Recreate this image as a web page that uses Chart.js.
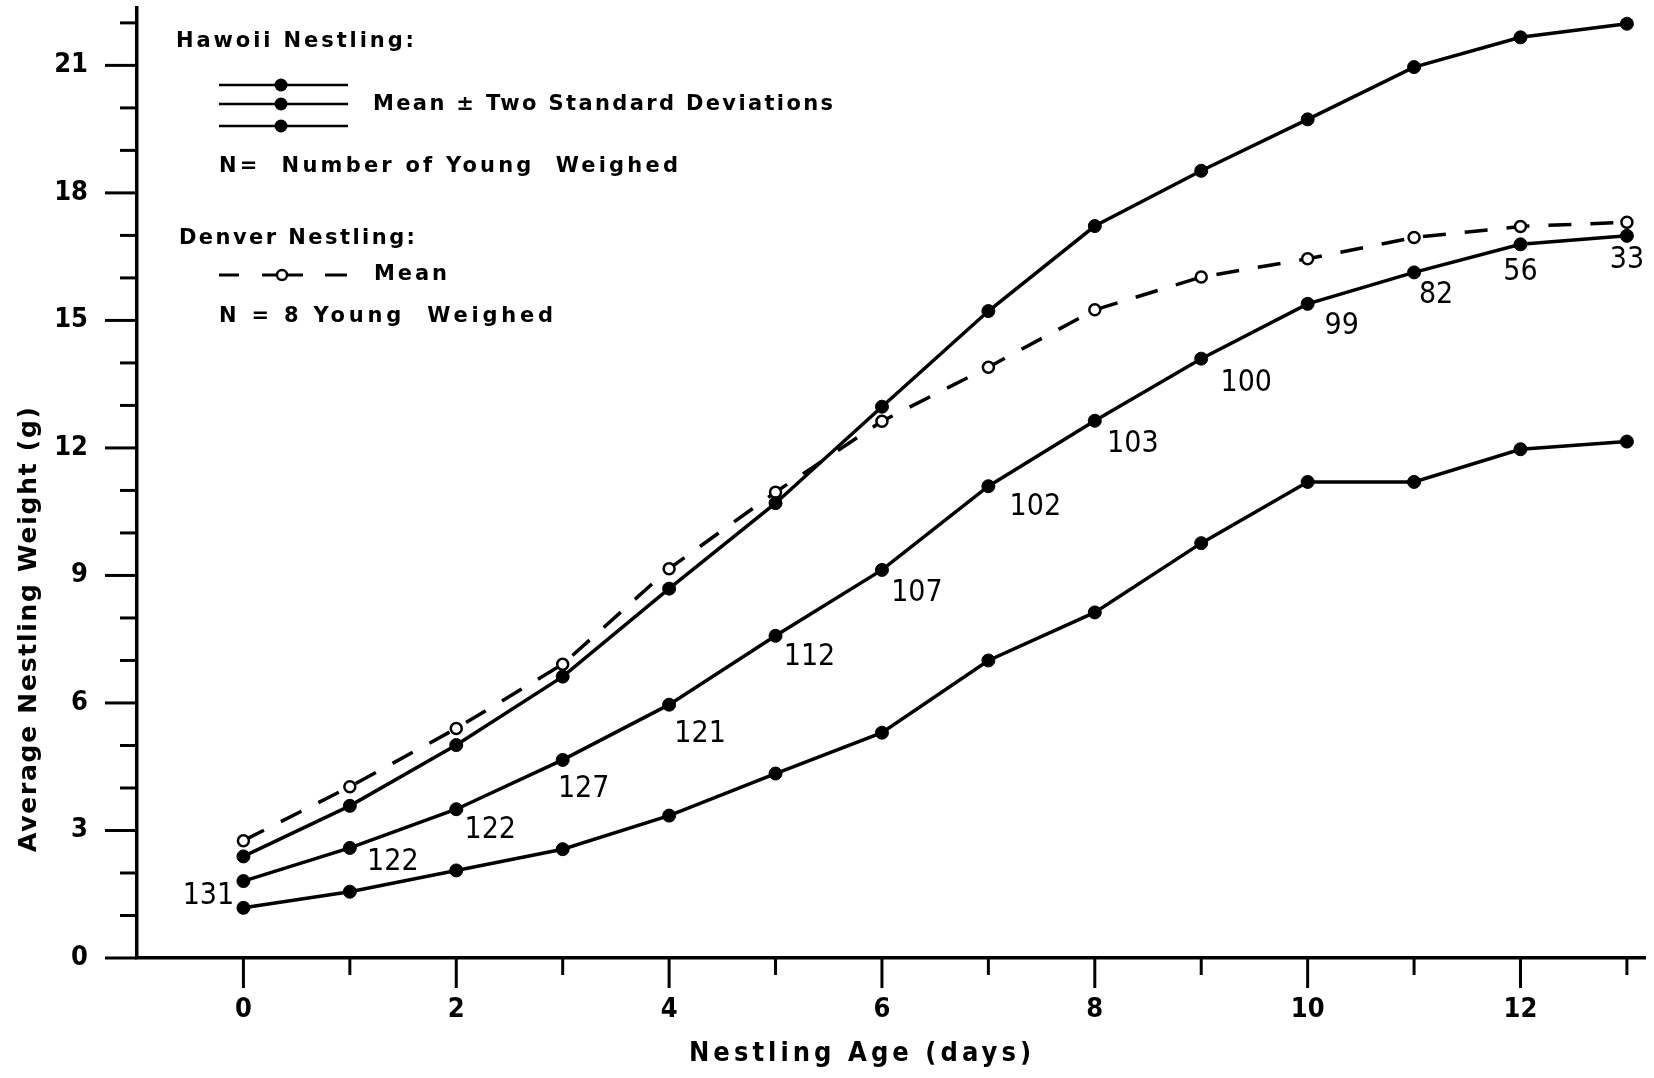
<!DOCTYPE html>
<html>
<head>
<meta charset="utf-8">
<title>Nestling weight</title>
<script src="https://cdn.jsdelivr.net/npm/chart.js@4/dist/chart.umd.min.js"></script>
<style>
    html, body { margin: 0; padding: 0; background: #fff; }
    #wrap { width: 1654px; height: 1078px; position: relative; }
</style>
</head>
<body>
<div id="wrap"><canvas id="weightChart"></canvas></div>
<script>
// values (grams)
var ages = [0, 1, 2, 3, 4, 5, 6, 7, 8, 9, 10, 11, 12, 13];
var hawaiiPlus2SD = [2.39, 3.58, 5.01, 6.62, 8.69, 10.7, 12.97, 15.22, 17.22, 18.52, 19.73, 20.96, 21.66, 21.98];
var hawaiiMean = [1.81, 2.59, 3.5, 4.66, 5.96, 7.58, 9.13, 11.1, 12.64, 14.1, 15.39, 16.13, 16.79, 16.99];
var hawaiiMinus2SD = [1.18, 1.56, 2.06, 2.56, 3.35, 4.34, 5.3, 7.0, 8.13, 9.76, 11.2, 11.2, 11.97, 12.15];
var denverMean = [2.76, 4.03, 5.4, 6.91, 9.16, 10.96, 12.63, 13.9, 15.25, 16.02, 16.45, 16.95, 17.21, 17.31];
var youngWeighed = [131, 122, 122, 127, 121, 112, 107, 102, 103, 100, 99, 82, 56, 33];
var yTickLabels = [0, 3, 6, 9, 12, 15, 18, 21];
var xTickLabels = [0, 2, 4, 6, 8, 10, 12];

function toPoints(vals) {
    return ages.map(function (a, i) { return { x: a, y: vals[i] }; });
}

var condensed = "'DejaVu Sans Condensed', 'DejaVu Sans', sans-serif";
var wide = "'DejaVu Sans', sans-serif";

// where each N label sits relative to its mean point
var nOffsets = [[-35, 15], [43, 14], [34, 21], [21, 29], [31, 30], [34, 21], [35, 23],
                [47, 21], [38, 23], [45, 25], [34, 22], [22, 23], [0, 28], [0, 24]];

function fitText(ctx, text, x, y, width) {
    ctx.letterSpacing = '0px';
    var w = ctx.measureText(text).width;
    var sp = (width - w) / (text.length - 1);
    ctx.letterSpacing = sp + 'px';
    ctx.fillText(text, x, y);
    ctx.letterSpacing = '0px';
}

function segment(ctx, x1, x2, y) {
    ctx.beginPath();
    ctx.moveTo(x1, y);
    ctx.lineTo(x2, y);
    ctx.stroke();
}

function dot(ctx, x, y, r, open) {
    ctx.beginPath();
    ctx.arc(x, y, r, 0, Math.PI * 2);
    if (open) {
        ctx.fillStyle = '#fff';
        ctx.fill();
        ctx.stroke();
        ctx.fillStyle = '#000';
    } else {
        ctx.fill();
    }
}

var tickMarks = {
    id: 'tickMarks',
    afterDraw: function (chart) {
        var ctx = chart.ctx, xs = chart.scales.x, ys = chart.scales.y, area = chart.chartArea;
        ctx.save();
        ctx.strokeStyle = '#000';
        ctx.lineWidth = 3;
        ys.ticks.forEach(function (t) {
            var py = ys.getPixelForValue(t.value);
            var len = yTickLabels.indexOf(t.value) >= 0 ? 32 : 17;
            segment(ctx, area.left - len, area.left, py);
        });
        xs.ticks.forEach(function (t) {
            if (t.value < 0) return;
            var px = xs.getPixelForValue(t.value);
            var len = xTickLabels.indexOf(t.value) >= 0 ? 30 : 17;
            ctx.beginPath();
            ctx.moveTo(px, area.bottom);
            ctx.lineTo(px, area.bottom + len);
            ctx.stroke();
        });
        ctx.restore();
    }
};

var annotations = {
    id: 'annotations',
    afterDraw: function (chart) {
        var ctx = chart.ctx;
        ctx.save();
        ctx.fillStyle = '#000';
        ctx.strokeStyle = '#000';
        ctx.textBaseline = 'middle';
        ctx.textAlign = 'left';

        // key, top left
        ctx.font = 'bold 21px ' + wide;
        fitText(ctx, 'Hawoii Nestling:', 176, 42, 238);
        fitText(ctx, 'Mean \u00B1 Two Standard Deviations', 373, 105, 460);
        fitText(ctx, 'N=  Number of Young  Weighed', 219, 167, 459);
        fitText(ctx, 'Denver Nestling:', 179, 239, 236);
        fitText(ctx, 'Mean', 374, 275, 73);
        fitText(ctx, 'N = 8 Young  Weighed', 219, 317, 334);

        ctx.lineWidth = 2.5;
        [85, 104, 126].forEach(function (y) {
            segment(ctx, 219, 348, y);
            dot(ctx, 281, y, 6.5, false);
        });
        ctx.lineWidth = 3;
        segment(ctx, 219, 239, 275);
        segment(ctx, 262, 303, 275);
        segment(ctx, 325, 347, 275);
        ctx.lineWidth = 2.5;
        dot(ctx, 282, 275, 5, true);

        // N = young weighed, beside the mean points
        var meta = chart.getDatasetMeta(1);
        ctx.font = '30px ' + condensed;
        ctx.textAlign = 'center';
        meta.data.forEach(function (pt, i) {
            ctx.fillText(String(youngWeighed[i]), pt.x + nOffsets[i][0], pt.y + nOffsets[i][1]);
        });

        // axis titles
        ctx.textAlign = 'left';
        ctx.font = 'bold 27px ' + condensed;
        fitText(ctx, 'Nestling Age (days)', 689, 1054, 342);
        ctx.translate(29, 630);
        ctx.rotate(-Math.PI / 2);
        ctx.font = 'bold 25px ' + wide;
        fitText(ctx, 'Average Nestling Weight (g)', -222, 0, 445);
        ctx.restore();
    }
};

var hawaiiStyle = {
    borderColor: '#000',
    borderWidth: 3.5,
    pointRadius: 6.5,
    pointBorderWidth: 1,
    pointBackgroundColor: '#000',
    pointBorderColor: '#000'
};

var ctx = document.getElementById('weightChart').getContext('2d');
var weightChart = new Chart(ctx, {
    type: 'line',
    data: {
        datasets: [
            Object.assign({ label: 'Hawaii mean + 2 SD', data: toPoints(hawaiiPlus2SD) }, hawaiiStyle),
            Object.assign({ label: 'Hawaii mean', data: toPoints(hawaiiMean) }, hawaiiStyle),
            Object.assign({ label: 'Hawaii mean - 2 SD', data: toPoints(hawaiiMinus2SD) }, hawaiiStyle),
            {
                label: 'Denver mean',
                data: toPoints(denverMean),
                borderColor: '#000',
                borderWidth: 3.5,
                borderDash: [23, 19],
                pointRadius: 5.5,
                pointBorderWidth: 2.5,
                pointBackgroundColor: '#fff',
                pointBorderColor: '#000'
            }
        ]
    },
    options: {
        responsive: true,
        maintainAspectRatio: false,
        animation: false,
        layout: { padding: { top: 8, right: 9, left: 0, bottom: 0 } },
        plugins: {
            legend: { display: false },
            tooltip: { enabled: false }
        },
        scales: {
            x: {
                type: 'linear',
                min: -1,
                max: 13.17,
                afterFit: function (scale) {
                    scale.height = 120;
                    scale.paddingLeft = 0;
                    scale.paddingRight = 0;
                },
                border: { display: true, color: '#000', width: 3.5 },
                grid: { drawOnChartArea: false, drawTicks: false },
                ticks: {
                    stepSize: 1,
                    autoSkip: false,
                    includeBounds: false,
                    maxRotation: 0,
                    padding: 36,
                    color: '#000',
                    font: { family: condensed, weight: 'bold', size: 27 },
                    callback: function (v) { return xTickLabels.indexOf(v) >= 0 ? String(v) : ''; }
                }
            },
            y: {
                min: 0,
                max: 22.35,
                afterFit: function (scale) {
                    scale.width = 137;
                    scale.paddingTop = 0;
                    scale.paddingBottom = 0;
                },
                border: { display: true, color: '#000', width: 3.5 },
                grid: { drawOnChartArea: false, drawTicks: false },
                ticks: {
                    stepSize: 1,
                    autoSkip: false,
                    includeBounds: false,
                    padding: 49,
                    color: '#000',
                    font: { family: condensed, weight: 'bold', size: 27 },
                    callback: function (v) { return yTickLabels.indexOf(v) >= 0 ? String(v) : ''; }
                }
            }
        }
    },
    plugins: [tickMarks, annotations]
});
</script>
</body>
</html>
